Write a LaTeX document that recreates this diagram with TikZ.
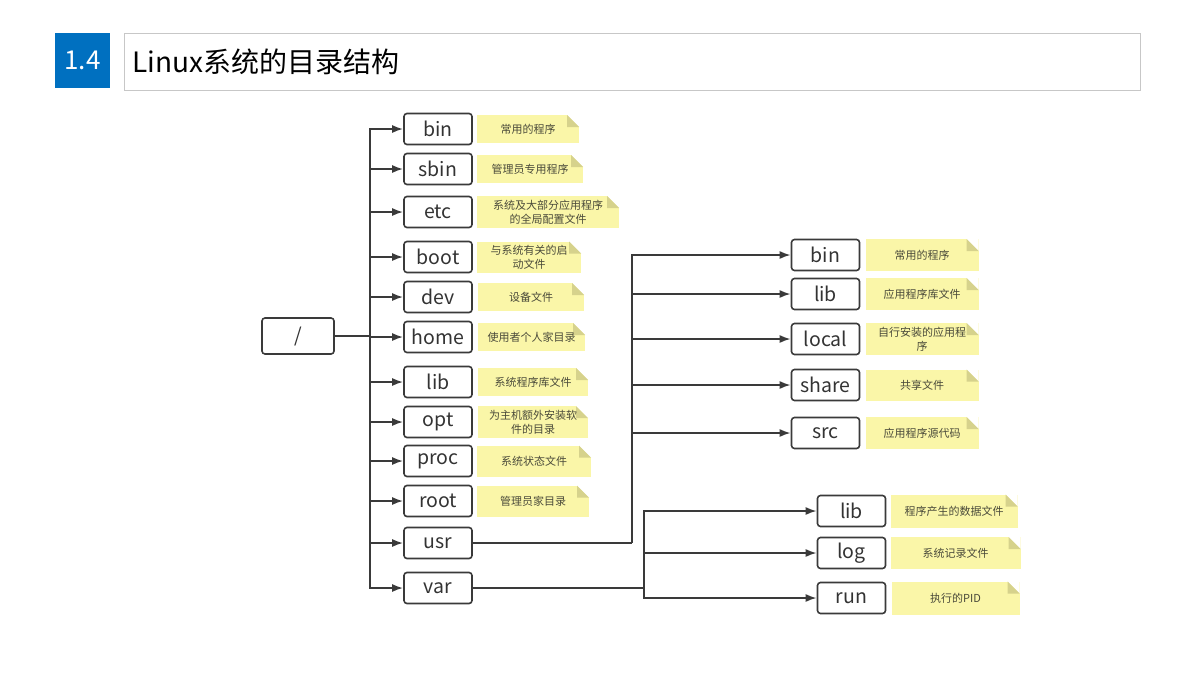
\documentclass[tikz,border=0pt]{standalone}
\usepackage{fontspec}
\setmainfont{Noto Sans CJK SC}
\usepackage{xcolor}
\usetikzlibrary{arrows.meta,positioning}

\definecolor{titleblue}{HTML}{0070C0}
\definecolor{linegray}{HTML}{3A3A3A}
\definecolor{noteyellow}{HTML}{FAF6A8}
\definecolor{notefold}{HTML}{D6D28C}
\definecolor{notetext}{HTML}{4A4A3A}

\begin{document}
\begin{tikzpicture}[
    x=1pt, y=-1pt,
    dirbox/.style={rectangle, draw=linegray, line width=1.6pt, rounded corners=3pt, minimum width=68pt, minimum height=31pt, inner sep=0pt, text=black!80, font=\fontsize{19.5}{21}\selectfont},
    note/.style={rectangle, fill=noteyellow, minimum width=106pt, minimum height=28pt, inner sep=2pt, align=center, text=notetext, font=\fontsize{11}{14}\selectfont,
        path picture={
            \fill[white] ([xshift=-12pt]path picture bounding box.north east) -- (path picture bounding box.north east) -- ([yshift=-12pt]path picture bounding box.north east) -- cycle;
            \fill[notefold] ([xshift=-12pt]path picture bounding box.north east) -- ([yshift=-12pt]path picture bounding box.north east) -- ([xshift=-12pt,yshift=-12pt]path picture bounding box.north east) -- cycle;}},
    arrow/.style={-{Latex[length=11pt,width=8pt]}, line width=1.8pt, draw=linegray},
    link/.style={line width=1.8pt, draw=linegray}
]
    \useasboundingbox (0,0) rectangle (1200,675);

    % title bar
    \node[fill=titleblue, minimum width=55pt, minimum height=55pt, inner sep=0pt, text=white, font=\fontsize{26}{28}\selectfont] (secnum) at (82.5,60.5) {1.4};
    \node[draw=black!22, line width=1pt, anchor=west, text width=1000pt, minimum height=57pt, inner xsep=8pt, align=left, font=\fontsize{28}{30}\selectfont] (title) at (124,61.5) {Linux系统的目录结构};

    % root and first level
    \node[dirbox, minimum width=72pt, minimum height=36pt] (root) at (298,336) {/};
    \node[dirbox] (bin) at (438,129) {bin};
    \node[dirbox] (sbin) at (438,169) {sbin};
    \node[dirbox] (etc) at (438,212) {etc};
    \node[dirbox] (boot) at (438,257) {boot};
    \node[dirbox] (dev) at (438,297) {dev};
    \node[dirbox] (home) at (438,337) {home};
    \node[dirbox] (lib) at (438,382) {lib};
    \node[dirbox] (opt) at (438,422) {opt};
    \node[dirbox] (proc) at (438,461) {proc};
    \node[dirbox] (rootdir) at (438,501) {root};
    \node[dirbox] (usr) at (438,543) {usr};
    \node[dirbox] (var) at (438,588) {var};

    \node[note, right=4pt of bin, minimum width=102pt] (binnote) {常用的程序};
    \node[note, right=4pt of sbin] (sbinnote) {管理员专用程序};
    \node[note, right=4pt of etc, minimum width=142pt, minimum height=32pt] (etcnote) {系统及大部分应用程序\\的全局配置文件};
    \node[note, right=4pt of boot, minimum width=104pt, minimum height=31pt] (bootnote) {与系统有关的启\\动文件};
    \node[note, right=5pt of dev] (devnote) {设备文件};
    \node[note, right=5pt of home, minimum width=107pt] (homenote) {使用者个人家目录};
    \node[note, right=5pt of lib, minimum width=110pt] (libnote) {系统程序库文件};
    \node[note, right=5pt of opt, minimum width=110pt, minimum height=32pt] (optnote) {为主机额外安装软\\件的目录};
    \node[note, right=4pt of proc, minimum width=114pt, minimum height=31pt] (procnote) {系统状态文件};
    \node[note, right=4pt of rootdir, minimum width=112pt, minimum height=31pt] (rootnote) {管理员家目录};

    \draw[arrow] (root.east) -- ++(35,0) |- (bin);
    \draw[arrow] (root.east) -- ++(35,0) |- (sbin);
    \draw[arrow] (root.east) -- ++(35,0) |- (etc);
    \draw[arrow] (root.east) -- ++(35,0) |- (boot);
    \draw[arrow] (root.east) -- ++(35,0) |- (dev);
    \draw[arrow] (root.east) -- ++(35,0) |- (home);
    \draw[arrow] (root.east) -- ++(35,0) |- (lib);
    \draw[arrow] (root.east) -- ++(35,0) |- (opt);
    \draw[arrow] (root.east) -- ++(35,0) |- (proc);
    \draw[arrow] (root.east) -- ++(35,0) |- (rootdir);
    \draw[arrow] (root.east) -- ++(35,0) |- (usr);
    \draw[arrow] (root.east) -- ++(35,0) |- (var);

    % under /usr
    \node[dirbox] (usrbin) at (825.5,255) {bin};
    \node[dirbox] (usrlib) at (825.5,294) {lib};
    \node[dirbox] (usrlocal) at (825.5,339) {local};
    \node[dirbox] (usrshare) at (825.5,385) {share};
    \node[dirbox] (usrsrc) at (825.5,433) {src};

    \node[note, right=5pt of usrbin, minimum width=113pt, minimum height=32pt] (usrbinnote) {常用的程序};
    \node[note, right=5pt of usrlib, minimum width=113pt, minimum height=32pt] (usrlibnote) {应用程序库文件};
    \node[note, right=5pt of usrlocal, minimum width=113pt, minimum height=32pt] (usrlocalnote) {自行安装的应用程\\序};
    \node[note, right=5pt of usrshare, minimum width=113pt, minimum height=31pt] (usrsharenote) {共享文件};
    \node[note, right=5pt of usrsrc, minimum width=113pt, minimum height=32pt] (usrsrcnote) {应用程序源代码};

    \coordinate (usrjoint) at (632,543);
    \draw[link] (usr.east) -- (usrjoint);
    \draw[arrow] (usrjoint) |- (usrbin);
    \draw[arrow] (usrjoint) |- (usrlib);
    \draw[arrow] (usrjoint) |- (usrlocal);
    \draw[arrow] (usrjoint) |- (usrshare);
    \draw[arrow] (usrjoint) |- (usrsrc);

    % under /var
    \node[dirbox] (varlib) at (851.5,511) {lib};
    \node[dirbox] (varlog) at (851.5,553) {log};
    \node[dirbox] (varrun) at (851.5,598) {run};

    \node[note, right=4pt of varlib, minimum width=127pt, minimum height=33pt] (varlibnote) {程序产生的数据文件};
    \node[note, right=4pt of varlog, minimum width=130pt, minimum height=32pt] (varlognote) {系统记录文件};
    \node[note, right=5pt of varrun, minimum width=128pt, minimum height=33pt] (varrunnote) {执行的PID};

    \coordinate (varjoint) at (644,588);
    \draw[link] (var.east) -- (varjoint);
    \draw[arrow] (varjoint) |- (varlib);
    \draw[arrow] (varjoint) |- (varlog);
    \draw[arrow] (varjoint) |- (varrun);
\end{tikzpicture}
\end{document}
